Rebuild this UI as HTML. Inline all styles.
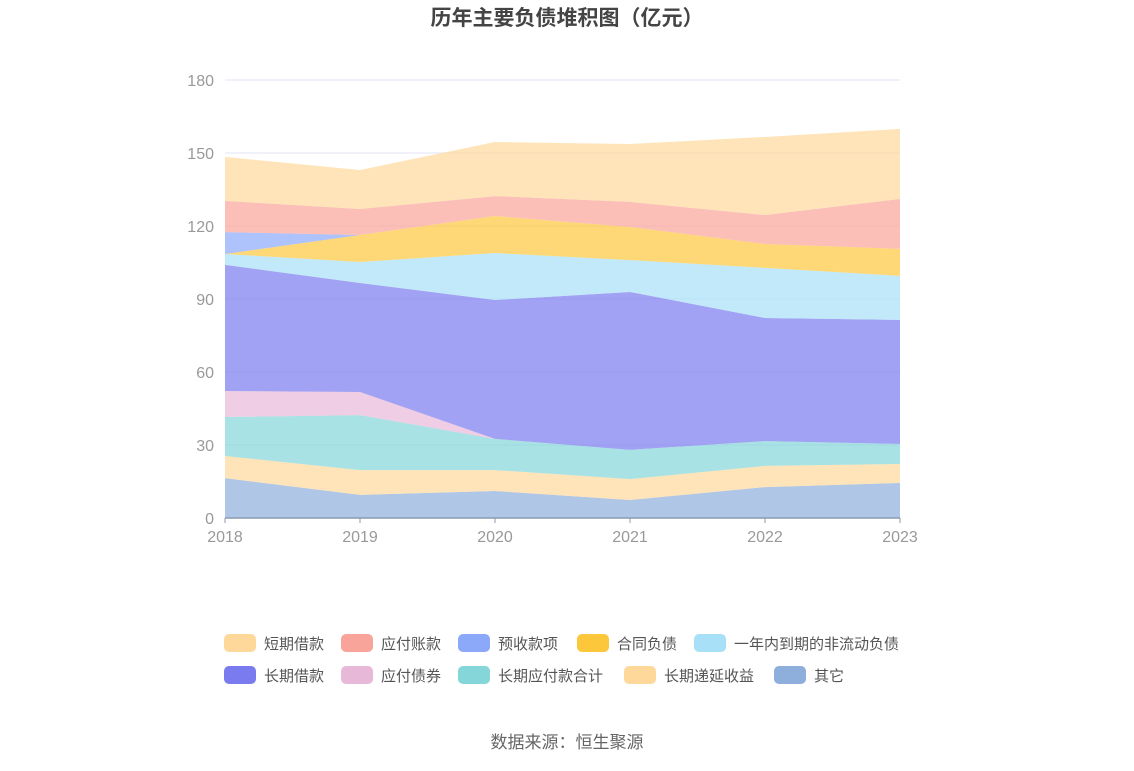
<!DOCTYPE html>
<html><head><meta charset="utf-8">
<style>
body{margin:0;background:#fff;width:1134px;height:766px;overflow:hidden;font-family:"Liberation Sans","Noto Sans CJK SC",sans-serif}
svg text{font-family:"Liberation Sans","Noto Sans CJK SC",sans-serif}
</style></head>
<body>
<svg id="chart" width="1134" height="766" xmlns="http://www.w3.org/2000/svg">
<text x="567" y="25" text-anchor="middle" font-size="21" font-weight="bold" fill="#444">历年主要负债堆积图（亿元）</text>
<g id="grid"></g>
<g id="areas"></g>
<g id="axes"></g>
<g id="legend"></g>
<text x="567" y="748" text-anchor="middle" font-size="17" fill="#666">数据来源：恒生聚源</text>
</svg>
<script>
const years = ["2018","2019","2020","2021","2022","2023"];
const yTicks = [0,30,60,90,120,150,180];
const seriesNames = ["其它","长期递延收益","长期应付款合计","应付债券","长期借款","一年内到期的非流动负债","合同负债","预收款项","应付账款","短期借款"];
const vOther = [16.4,9.5,11.1,7.4,12.7,14.4];
const vDeferred = [9.1,10.2,8.6,8.6,8.7,7.8];
const vLtPayable = [16.0,22.6,12.8,12.0,10.2,8.2];
const vBonds = [10.7,9.5,0,0,0,0];
const vLtLoan = [51.8,44.8,57.1,64.9,50.6,51.0];
const vCurrentNc = [4.5,8.6,19.3,13.1,20.6,18.1];
const vContract = [0,11.1,15.2,13.6,9.8,11.1];
const vAdvance = [9.0,0,0,0,0,0];
const vPayable = [12.8,10.7,8.2,10.3,11.9,20.5];
const vShortLoan = [18.1,16.0,22.2,23.8,32.1,28.8];
const seriesValues = [vOther,vDeferred,vLtPayable,vBonds,vLtLoan,vCurrentNc,vContract,vAdvance,vPayable,vShortLoan];
const colors = ["#8eaedb","#fdd89a","#84d6d8","#e8b8d8","#7b7bf0","#a7e0f7","#fdc73c","#8ca8f9","#f9a49a","#fdd89a"];
const slugs = ["other","deferred-income","lt-payables","bonds-payable","lt-loans","current-noncurrent","contract-liab","advance-receipts","accounts-payable","short-loans"];
const NS="http://www.w3.org/2000/svg";
const x0=225,x1=900,yb=518,yt=80,ymax=180;
const X=i=>x0+(x1-x0)*i/(years.length-1);
const Y=v=>yb-(yb-yt)*v/ymax;
function mk(t,a,p){const e=document.createElementNS(NS,t);for(const k in a)e.setAttribute(k,a[k]);p.appendChild(e);return e;}
const grid=document.getElementById('grid'),axes=document.getElementById('axes'),areas=document.getElementById('areas'),legend=document.getElementById('legend');
yTicks.forEach(t=>{
 if(t>0){const l=mk('line',{x1:x0,x2:x1,y1:Y(t),y2:Y(t),stroke:'#e3e6f3','stroke-width':1},grid);
 
 }
 const tx=mk('text',{x:214,y:Y(t)+6,'text-anchor':'end','font-size':16,fill:'#999'},axes);tx.textContent=t;
 
 
});
let base=years.map(()=>0);
seriesValues.forEach((vals,s)=>{
 const top=base.map((b,i)=>b+vals[i]);
 let d='M'+years.map((_,i)=>X(i)+','+Y(top[i])).join(' L');
 for(let i=years.length-1;i>=0;i--)d+=' L'+X(i)+','+Y(base[i]);
 const p=mk('path',{d:d+'Z',fill:colors[s],'fill-opacity':0.7},areas);
 
 
 base=top;
});
const ax=mk('line',{x1:x0,x2:x1,y1:yb,y2:yb,stroke:'#8a9bb0','stroke-width':1.5},axes);


years.forEach((y,i)=>{
 const tk=mk('line',{x1:X(i),x2:X(i),y1:yb,y2:yb+5,stroke:'#8a9bb0'},axes);
 
 
 const tx=mk('text',{x:X(i),y:yb+24,'text-anchor':'middle','font-size':16,fill:'#999'},axes);tx.textContent=y;
 
 
});
const legendOrder=[9,8,7,6,5,4,3,2,1,0];
const legendPos=[[224,643],[341,643],[458,643],[577,643],[694,643],[224,675],[341,675],[458,675],[624,675],[774,675]];
legendOrder.forEach((s,k)=>{
 const [lx,ly]=legendPos[k];
 const g=mk('g',{},legend);
 
 
 mk('rect',{x:lx,y:ly-9,width:32,height:18,rx:5,fill:colors[s]},g);
 const t=mk('text',{x:lx+40,y:ly+6,'font-size':15,fill:'#555'},g);t.textContent=seriesNames[s];
});
</script>
</body></html>
